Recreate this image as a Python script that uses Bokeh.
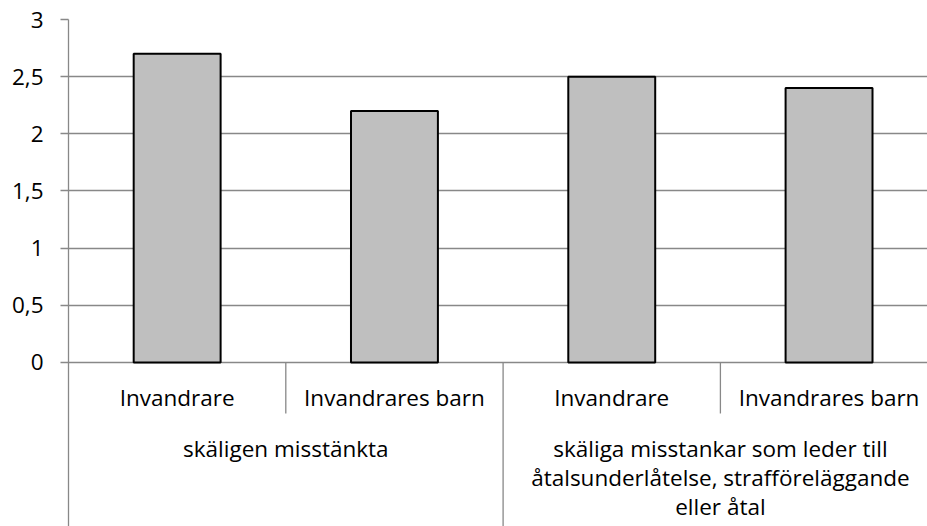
from bokeh.plotting import figure
from bokeh.models import Label, FixedTicker, Range1d, ColumnDataSource
from bokeh.embed import file_html
from bokeh.resources import INLINE

# ---- data ----
categories = ["Invandrare", "Invandrares barn", "Invandrare", "Invandrares barn"]
values = [2.7, 2.2, 2.5, 2.4]
groups = ["skäligen misstänkta",
          "skäliga misstankar som leder till\nåtalsunderlåtelse, strafföreläggande\neller åtal"]
group_sizes = [2, 2]
y_ticks = [0, 0.5, 1, 1.5, 2, 2.5, 3]
y_tick_labels = ["0", "0,5", "1", "1,5", "2", "2,5", "3"]

# ---- layout ----
W, H = 927, 526
border_left, border_top = 68, 19
frame_w = W - border_left
frame_h = H - border_top
cat_px = 217.3          # pixel width of one category
px_per_unit = 114.33    # pixels per y unit
x_end = frame_w / cat_px
y_end = max(y_ticks)
y_start = y_end - frame_h / px_per_unit

FONT = "Open Sans"
FSIZE = "22.5px"
GRAY = "#888888"

p = figure(width=W, height=H, output_backend="svg", toolbar_location=None,
           x_range=Range1d(0, x_end), y_range=Range1d(y_start, y_end),
           min_border_left=border_left, min_border_right=0,
           min_border_top=border_top, min_border_bottom=0,
           x_axis_location=None)
p.outline_line_color = None
p.xgrid.visible = False
p.ygrid.ticker = FixedTicker(ticks=y_ticks)
p.ygrid.grid_line_color = GRAY
p.ygrid.grid_line_width = 1.3

yax = p.yaxis[0]
yax.ticker = FixedTicker(ticks=y_ticks)
yax.major_label_overrides = {t: l for t, l in zip(y_ticks, y_tick_labels)}
yax.axis_line_color = GRAY
yax.axis_line_width = 1.3
yax.major_tick_line_color = GRAY
yax.major_tick_line_width = 1.3
yax.major_tick_out = 8
yax.major_tick_in = 0
yax.minor_tick_line_color = None
yax.major_label_standoff = 17
yax.major_label_text_font = FONT
yax.major_label_text_font_size = FSIZE
yax.major_label_text_color = "black"

xs = [i + 0.5 for i in range(len(values))]
src = ColumnDataSource(dict(x=xs, top=values))
p.vbar(x="x", top="top", bottom=0, width=0.4, source=src,
       fill_color="#BFBFBF", line_color="black", line_width=2)

def px_to_y(px_below_zero):
    return -px_below_zero / px_per_unit

# category dividers
n = len(categories)
bounds = []
start = 0
for g in group_sizes:
    start += g
    bounds.append(start)
inner = [i for i in range(1, n) if i not in bounds]
outer = [b for b in bounds if b < n]
p.segment(x0=inner, x1=inner, y0=[0]*len(inner), y1=[px_to_y(51)]*len(inner),
          line_color=GRAY, line_width=1.3)
p.segment(x0=outer, x1=outer, y0=[0]*len(outer), y1=[y_start]*len(outer),
          line_color=GRAY, line_width=1.3)

# category labels
for x, c in zip(xs, categories):
    p.add_layout(Label(x=x, y=px_to_y(35), text=c, text_align="center",
                       text_baseline="middle", text_font=FONT,
                       text_font_size=FSIZE, text_color="black"))

# group labels
start = 0
for g, size in zip(groups, group_sizes):
    cx = start + size / 2
    start += size
    for k, line in enumerate(g.split("\n")):
        p.add_layout(Label(x=cx, y=px_to_y(86 + 29 * k), text=line,
                           text_align="center", text_baseline="middle",
                           text_font=FONT, text_font_size=FSIZE,
                           text_color="black"))

open("out.html", "w").write(file_html(p, INLINE))
